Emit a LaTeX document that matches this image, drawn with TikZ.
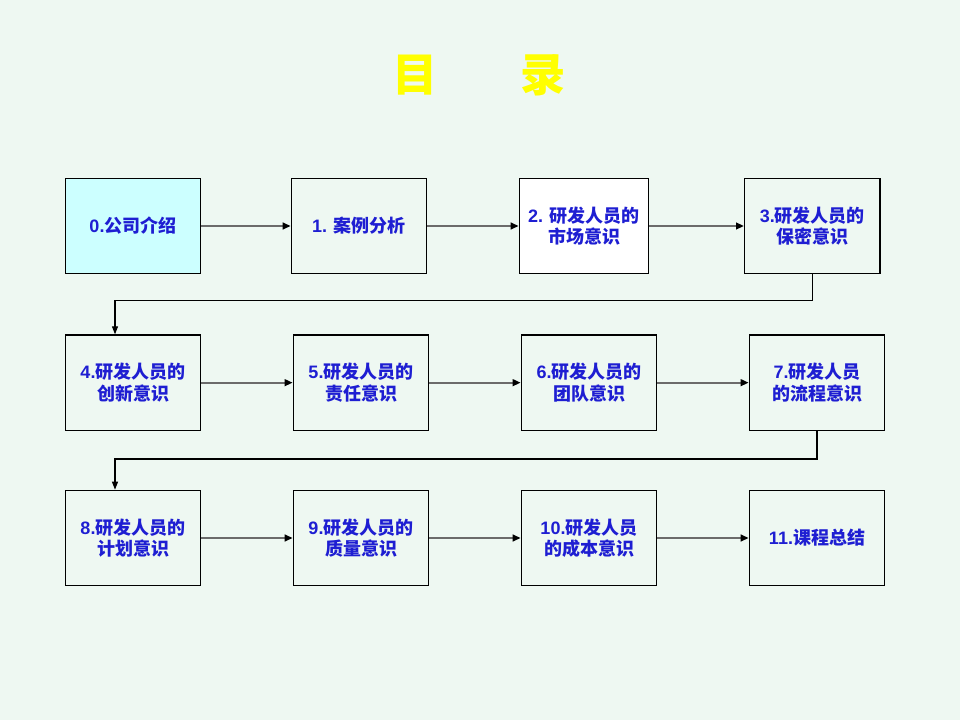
\documentclass[tikz,border=0pt]{standalone}
\usepackage{fontspec}
\setmainfont{Liberation Sans}
\newfontfamily\cjk{Noto Sans CJK SC}
\usetikzlibrary{positioning,arrows.meta}

\definecolor{slidebg}{RGB}{238,248,242}
\definecolor{introcyan}{RGB}{204,255,255}
\definecolor{itemblue}{RGB}{30,30,210}
\definecolor{titleyellow}{RGB}{255,255,0}
\newcommand{\zh}[1]{{\cjk\bfseries #1}}

\begin{document}
\begin{tikzpicture}[
    x=0.75pt, y=-0.75pt,
    node distance=45pt and 68.5pt,
    item/.style={rectangle, draw, line width=1pt, minimum width=101.5pt, minimum height=71.5pt, align=center, inner sep=2pt, text=itemblue, font=\fontsize{13.5}{16}\selectfont\bfseries},
    flow/.style={-{Triangle[black,length=6pt,width=5pt]}, draw=black!58, line width=1.6pt},
    link/.style={-{Triangle[length=6pt,width=4.5pt]}, line width=0.8pt}
]

% Slide background
\fill[slidebg] (0,0) rectangle (960,720);

% Title
\node[text=titleyellow, font=\cjk\bfseries\fontsize{34}{40}\selectfont] (title) at (479,75) {目\hspace{62pt}录};

% Row 1
\node[item, fill=introcyan] (b0) at (133,226) {0.\zh{公司介绍}};
\node[item, right=67pt of b0] (b1) {1. \zh{案例分析}};
\node[item, fill=white, minimum width=97pt, right=68.5pt of b1] (b2) {2. \zh{研发人员的}\\\zh{市场意识}};
\node[item, right=71pt of b2] (b3) {3.\zh{研发人员的}\\\zh{保密意识}};

% Row 2
\node[item, below=of b0] (b4) {4.\zh{研发人员的}\\\zh{创新意识}};
\node[item, right=of b4] (b5) {5.\zh{研发人员的}\\\zh{责任意识}};
\node[item, right=of b5] (b6) {6.\zh{研发人员的}\\\zh{团队意识}};
\node[item, right=of b6] (b7) {7.\zh{研发人员}\\\zh{的流程意识}};

% Row 3
\node[item, below=44pt of b4] (b8) {8.\zh{研发人员的}\\\zh{计划意识}};
\node[item, right=of b8] (b9) {9.\zh{研发人员的}\\\zh{质量意识}};
\node[item, right=of b9] (b10) {10.\zh{研发人员}\\\zh{的成本意识}};
\node[item, right=of b10] (b11) {11.\zh{课程总结}};

% Arrows along the rows
\foreach \a/\b in {b0/b1, b1/b2, b2/b3, b4/b5, b5/b6, b6/b7, b8/b9, b9/b10, b10/b11}
    \draw[flow] (\a) -- (\b);

% Row changes
\draw[link] (b3.south) -- ++(0,26) -| ([xshift=-13.5pt]b4.north);
\draw[link] (b7.south) -- ++(0,28) -| ([xshift=-13.5pt]b8.north);

\end{tikzpicture}
\end{document}
